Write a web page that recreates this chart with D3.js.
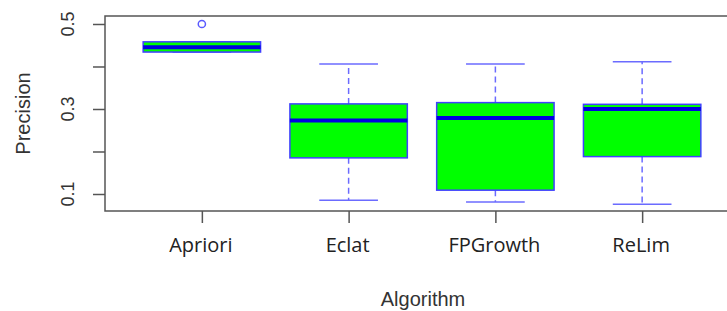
<!DOCTYPE html>
<html>
<head>
<meta charset="utf-8" />
<title>Precision by algorithm</title>
<script src="https://d3js.org/d3.v7.min.js"></script>
<style>
body { margin: 0; background: #fff; }
.frame { stroke: #555; stroke-width: 1.5; fill: none; }
.axis path { display: none; }
.axis line { stroke: #555; stroke-width: 1.5; }
.ylab { font-family: "Liberation Sans", Arial, sans-serif; font-size: 18px; fill: #333; }
.xlab { font-family: "Open Sans", sans-serif; font-size: 20px; fill: #222; }
.title { font-family: "Liberation Sans", Arial, sans-serif; font-size: 20px; fill: #333; }
</style>
</head>
<body>
<div id="viz"></div>
<script>
// data
var algorithms = ["Apriori", "Eclat", "FPGrowth", "ReLim"];
var lowerWhisker = [0.434, 0.085, 0.081, 0.076];
var q1 = [0.434, 0.185, 0.109, 0.188];
var median = [0.445, 0.273, 0.279, 0.300];
var q3 = [0.458, 0.312, 0.315, 0.311];
var upperWhisker = [0.458, 0.406, 0.406, 0.411];
var outliers = [[0.5], [], [], []];
var yTicks = [0.1, 0.2, 0.3, 0.4, 0.5];
var yTickLabels = ["0.1", "", "0.3", "", "0.5"];

var W = 727, H = 311;
// plot region (right edge runs past the picture, as in the original)
var pLeft = 105, pTop = 16, pBottom = 211, pRight = 739;

var svg = d3.select("#viz").append("svg")
    .attr("width", W)
    .attr("height", H);

var x = d3.scaleLinear().domain([0.34, algorithms.length + 0.66]).range([pLeft, pRight]);
var y = d3.scaleLinear().domain([0.06, 0.5188]).range([pBottom, pTop]);

var boxW = x(1.4) - x(1);   // half of width 0.8
var capW = boxW / 2;

var data = algorithms.map(function(a, i) {
  return {name: a, i: i + 1, lo: lowerWhisker[i], q1: q1[i], med: median[i],
          q3: q3[i], hi: upperWhisker[i], out: outliers[i]};
});

var g = svg.selectAll(".box")
  .data(data)
  .enter().append("g")
    .attr("class", "box");

// whiskers
g.append("line")
    .attr("x1", function(d) { return x(d.i); })
    .attr("x2", function(d) { return x(d.i); })
    .attr("y1", function(d) { return y(d.q3); })
    .attr("y2", function(d) { return y(d.hi); })
    .attr("stroke", "#6b6bff").attr("stroke-width", 1.5)
    .attr("stroke-dasharray", "6,4");
g.append("line")
    .attr("x1", function(d) { return x(d.i); })
    .attr("x2", function(d) { return x(d.i); })
    .attr("y1", function(d) { return y(d.q1); })
    .attr("y2", function(d) { return y(d.lo); })
    .attr("stroke", "#6b6bff").attr("stroke-width", 1.5)
    .attr("stroke-dasharray", "6,4");

// staples
["hi", "lo"].forEach(function(k) {
  g.append("line")
      .attr("x1", function(d) { return x(d.i) - capW; })
      .attr("x2", function(d) { return x(d.i) + capW; })
      .attr("y1", function(d) { return y(d[k]); })
      .attr("y2", function(d) { return y(d[k]); })
      .attr("stroke", "#6b6bff").attr("stroke-width", 1.5);
});

// boxes
g.append("rect")
    .attr("x", function(d) { return x(d.i) - boxW; })
    .attr("y", function(d) { return y(d.q3); })
    .attr("width", 2 * boxW)
    .attr("height", function(d) { return y(d.q1) - y(d.q3); })
    .attr("fill", "#00ff00")
    .attr("stroke", "#4040ff")
    .attr("stroke-width", 1.5);

// medians
g.append("line")
    .attr("x1", function(d) { return x(d.i) - boxW; })
    .attr("x2", function(d) { return x(d.i) + boxW; })
    .attr("y1", function(d) { return y(d.med); })
    .attr("y2", function(d) { return y(d.med); })
    .attr("stroke", "#0000e0").attr("stroke-width", 4);

// outliers
g.selectAll("circle")
  .data(function(d) { return d.out.map(function(v) { return {i: d.i, v: v}; }); })
  .enter().append("circle")
    .attr("cx", function(d) { return x(d.i); })
    .attr("cy", function(d) { return y(d.v); })
    .attr("r", 3.6)
    .attr("fill", "none")
    .attr("stroke", "#5a5aff")
    .attr("stroke-width", 1.5);

// frame
svg.append("rect")
    .attr("class", "frame")
    .attr("x", pLeft).attr("y", pTop)
    .attr("width", pRight - pLeft).attr("height", pBottom - pTop);

// axes
svg.append("g")
    .attr("class", "axis")
    .attr("transform", "translate(" + pLeft + ",0)")
    .call(d3.axisLeft(y).tickValues(yTicks).tickSize(12).tickFormat(""));

svg.selectAll(".ylab")
  .data(yTicks)
  .enter().append("text")
    .attr("class", "ylab")
    .attr("transform", function(d) { return "translate(74," + y(d) + ") rotate(-90)"; })
    .attr("text-anchor", "middle")
    .text(function(d, i) { return yTickLabels[i]; });

svg.append("g")
    .attr("class", "axis")
    .attr("transform", "translate(0," + pBottom + ")")
    .call(d3.axisBottom(x).tickValues(d3.range(1, algorithms.length + 1)).tickSize(12).tickFormat(""));

svg.selectAll(".xlab")
  .data(algorithms)
  .enter().append("text")
    .attr("class", "xlab")
    .attr("x", function(d, i) { return x(i + 1) - 1; })
    .attr("y", 252)
    .attr("text-anchor", "middle")
    .text(function(d) { return d; });

svg.append("text")
    .attr("class", "title")
    .attr("x", 423).attr("y", 306)
    .attr("text-anchor", "middle")
    .text("Algorithm");

svg.append("text")
    .attr("class", "title")
    .attr("transform", "translate(30," + ((pTop + pBottom) / 2) + ") rotate(-90)")
    .attr("text-anchor", "middle")
    .text("Precision");
</script>
</body>
</html>
